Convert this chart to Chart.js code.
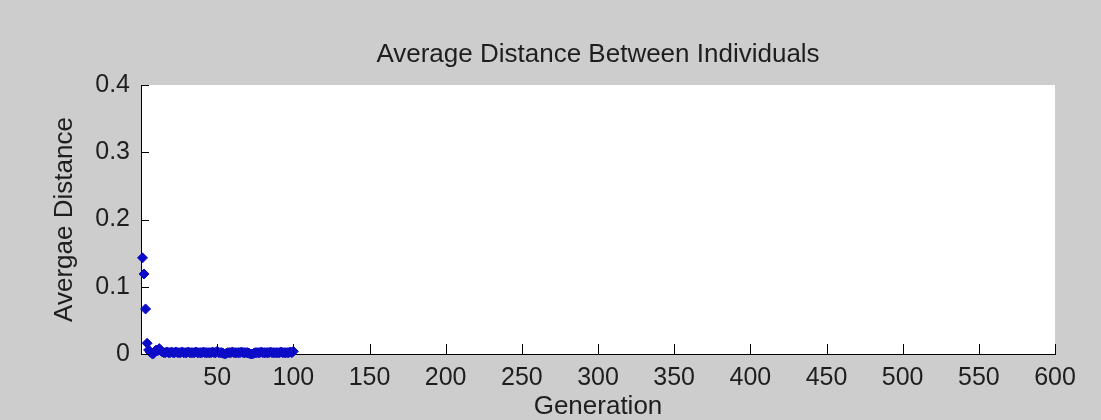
<!DOCTYPE html>
<html>
<head>
<meta charset="utf-8">
<script src="https://cdn.jsdelivr.net/npm/chart.js@4"></script>
<style>
  html, body { margin: 0; padding: 0; background: #cdcdcd; }
  #wrap { width: 1101px; height: 420px; }
</style>
</head>
<body>
<div id="wrap"><canvas id="chart" width="1101" height="420"></canvas></div>
<script>
// generations and average distance values
const generations = [
    1, 2, 3, 4, 5, 6, 7, 8, 9, 10,
    11, 12, 13, 14, 15, 16, 17, 18, 19, 20,
    21, 22, 23, 24, 25, 26, 27, 28, 29, 30,
    31, 32, 33, 34, 35, 36, 37, 38, 39, 40,
    41, 42, 43, 44, 45, 46, 47, 48, 49, 50,
    51, 52, 53, 54, 55, 56, 57, 58, 59, 60,
    61, 62, 63, 64, 65, 66, 67, 68, 69, 70,
    71, 72, 73, 74, 75, 76, 77, 78, 79, 80,
    81, 82, 83, 84, 85, 86, 87, 88, 89, 90,
    91, 92, 93, 94, 95, 96, 97, 98, 99, 100
];
const avgDistance = [
    0.143, 0.119, 0.067, 0.016, 0.006, 0.003, 0.001, 0.000, 0.004, 0.006,
    0.005, 0.008, 0.005, 0.003, 0.002, 0.002, 0.003, 0.002, 0.002, 0.003,
    0.002, 0.002, 0.003, 0.002, 0.002, 0.002, 0.003, 0.002, 0.002, 0.002,
    0.003, 0.002, 0.002, 0.002, 0.002, 0.003, 0.002, 0.002, 0.002, 0.002,
    0.003, 0.002, 0.002, 0.002, 0.002, 0.002, 0.003, 0.002, 0.002, 0.004,
    0.002, 0.002, 0.002, 0.001, 0.000, 0.001, 0.002, 0.002, 0.002, 0.003,
    0.002, 0.002, 0.002, 0.002, 0.002, 0.003, 0.002, 0.002, 0.002, 0.002,
    0.001, 0.000, 0.000, 0.001, 0.002, 0.002, 0.002, 0.002, 0.003, 0.002,
    0.002, 0.002, 0.002, 0.002, 0.003, 0.002, 0.002, 0.002, 0.002, 0.002,
    0.002, 0.003, 0.002, 0.002, 0.002, 0.002, 0.002, 0.003, 0.002, 0.004
];
const xTicks = [0, 50, 100, 150, 200, 250, 300, 350, 400, 450, 500, 550, 600];
const yTicks = [0, 0.1, 0.2, 0.3, 0.4];

const FONT = "'Liberation Sans', Arial, sans-serif";
const TEXT = '#1e1e1e';

// white plot box + MATLAB style inward tick marks
const axesBox = {
    id: 'axesBox',
    beforeDraw(chart) {
        const { ctx, chartArea: a } = chart;
        ctx.save();
        ctx.fillStyle = '#ffffff';
        ctx.fillRect(a.left, a.top, a.right - a.left, a.bottom - a.top);
        ctx.restore();
    },
    afterDraw(chart) {
        const { ctx, chartArea: a, scales } = chart;
        ctx.save();
        ctx.strokeStyle = '#000';
        ctx.lineWidth = 1;
        ctx.beginPath();
        xTicks.forEach(v => {
            const px = Math.round(scales.x.getPixelForValue(v)) + 0.5;
            ctx.moveTo(px, a.bottom);
            ctx.lineTo(px, a.bottom - 10);
        });
        yTicks.forEach(v => {
            const py = Math.round(scales.y.getPixelForValue(v)) + 0.5;
            ctx.moveTo(a.left, py);
            ctx.lineTo(a.left + 8, py);
        });
        ctx.stroke();
        ctx.restore();
    }
};

const points = generations.map((g, i) => ({ x: g, y: avgDistance[i] }));

new Chart(document.getElementById('chart').getContext('2d'), {
    type: 'scatter',
    data: {
        datasets: [{
            label: 'Average Distance',
            data: points,
            pointStyle: 'rectRot',
            pointRadius: 5,
            backgroundColor: '#0c0cc8',
            borderColor: '#0c0cc8',
            borderWidth: 1,
            clip: false
        }]
    },
    options: {
        responsive: false,
        animation: false,
        devicePixelRatio: 1,
        layout: { padding: { left: 0, right: 46, top: 0, bottom: 0 } },
        plugins: {
            legend: { display: false },
            tooltip: { enabled: false },
            title: {
                display: true,
                text: 'Average Distance Between Individuals',
                fullSize: false,
                color: TEXT,
                font: { family: FONT, size: 26, weight: 'normal', lineHeight: 1 },
                padding: { top: 42, bottom: 17 }
            }
        },
        scales: {
            x: {
                type: 'linear',
                min: 0,
                max: 600,
                afterBuildTicks: scale => { scale.ticks = xTicks.map(v => ({ value: v })); },
                afterFit: scale => { scale.height = 66; },
                grid: { display: false, drawTicks: false },
                border: { display: true, color: '#000', width: 1 },
                ticks: {
                    color: TEXT,
                    padding: 9,
                    maxRotation: 0,
                    font: { family: FONT, size: 25 },
                    callback: v => (v === 0 ? '' : String(v))
                },
                title: {
                    display: true,
                    text: 'Generation',
                    color: TEXT,
                    font: { family: FONT, size: 26, lineHeight: 1 },
                    padding: { top: 0, bottom: 0 }
                }
            },
            y: {
                type: 'linear',
                min: 0,
                max: 0.4,
                afterBuildTicks: scale => { scale.ticks = yTicks.map(v => ({ value: v })); },
                afterFit: scale => { scale.width = 141; },
                grid: { display: false, drawTicks: false },
                border: { display: true, color: '#000', width: 1 },
                ticks: {
                    color: TEXT,
                    padding: 11,
                    font: { family: FONT, size: 25 },
                    callback: v => String(v)
                },
                title: {
                    display: true,
                    text: 'Avergae Distance',
                    color: TEXT,
                    font: { family: FONT, size: 26, lineHeight: 1 },
                    padding: { top: 52, bottom: 0 }
                }
            }
        }
    },
    plugins: [axesBox]
});
</script>
</body>
</html>
